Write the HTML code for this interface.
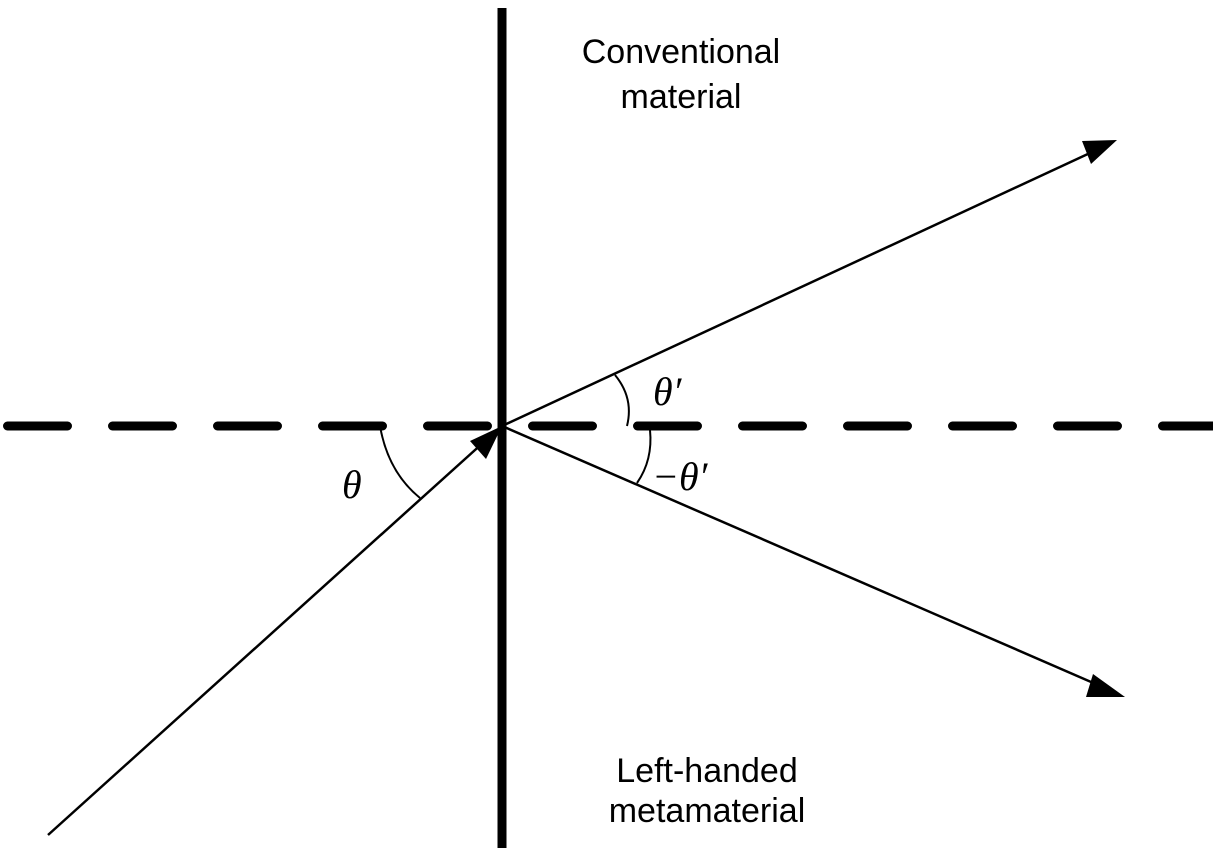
<!DOCTYPE html>
<html><head><style>
html,body{margin:0;padding:0;background:#fff;}
svg{display:block;}
</style></head><body>
<svg width="1213" height="855" viewBox="0 0 1213 855" xmlns="http://www.w3.org/2000/svg">
<rect width="1213" height="855" fill="#fff"/>
<line x1="7.5" y1="426" x2="1213" y2="426" stroke="#000" stroke-width="9" stroke-linecap="round" stroke-dasharray="60 45"/>
<line x1="502" y1="8" x2="502" y2="848" stroke="#000" stroke-width="9"/>
<!-- incident ray -->
<line x1="48" y1="835" x2="485" y2="441" stroke="#000" stroke-width="2.5"/>
<polygon points="502,426 470,441 486,459" fill="#000"/>
<!-- upper ray -->
<line x1="502" y1="426" x2="1090" y2="153" stroke="#000" stroke-width="2.5"/>
<polygon points="1117,140 1082,141 1091,164" fill="#000"/>
<!-- lower ray -->
<line x1="502" y1="426" x2="1098" y2="685" stroke="#000" stroke-width="2.5"/>
<polygon points="1125,697 1093,674 1086,697" fill="#000"/>
<!-- arcs -->
<path d="M380,426 Q388,472 420,498" fill="none" stroke="#000" stroke-width="2"/>
<path d="M615,375 Q634,398 627,426" fill="none" stroke="#000" stroke-width="2"/>
<path d="M650,430 Q653,460 637,483" fill="none" stroke="#000" stroke-width="2"/>
<g font-family="Liberation Serif, serif" font-style="italic" font-size="40" fill="#000">
<text x="342" y="498">θ</text>
<text x="653" y="405">θ′</text>
<text x="652" y="490">−θ′</text>
</g>
<g font-family="Liberation Sans, sans-serif" font-size="34" fill="#000" text-anchor="middle">
<text x="681" y="63">Conventional</text>
<text x="681" y="108">material</text>
<text x="707" y="782">Left-handed</text>
<text x="707" y="822">metamaterial</text>
</g>
</svg>
</body></html>
